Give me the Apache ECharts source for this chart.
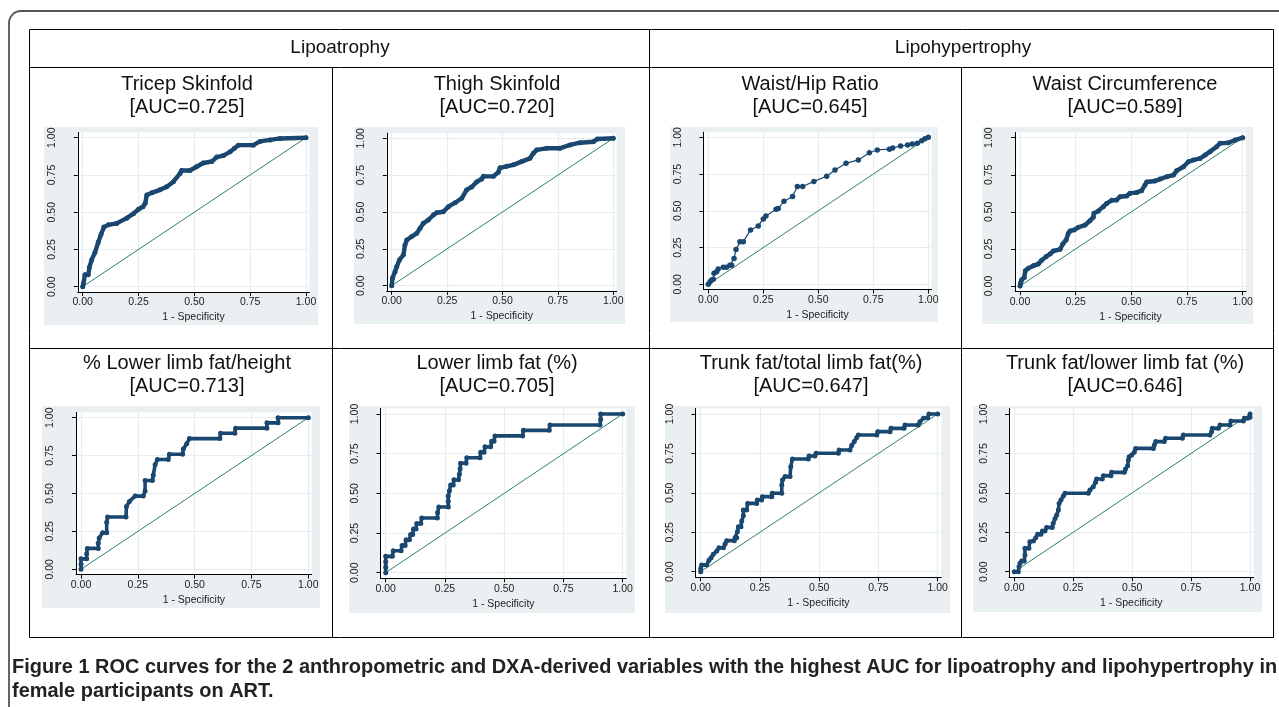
<!DOCTYPE html>
<html>
<head>
<meta charset="utf-8">
<script src="https://cdn.jsdelivr.net/npm/echarts@6/dist/echarts.min.js"></script>
<style>
html,body{margin:0;padding:0;background:#fff;}
#chart{width:1279px;height:707px;}
</style>
</head>
<body>
<div id="chart"></div>
<script>
// ---------- DATA ----------
const groupHeaders = ['Lipoatrophy', 'Lipohypertrophy'];
const panelTitles = ['Tricep Skinfold', 'Thigh Skinfold', 'Waist/Hip Ratio', 'Waist Circumference',
  '% Lower limb fat/height', 'Lower limb fat (%)', 'Trunk fat/total limb fat(%)', 'Trunk fat/lower limb fat (%)'];
const aucLabels = ['[AUC=0.725]', '[AUC=0.720]', '[AUC=0.645]', '[AUC=0.589]',
  '[AUC=0.713]', '[AUC=0.705]', '[AUC=0.647]', '[AUC=0.646]'];
const tickValues = [0, 0.25, 0.5, 0.75, 1];
const tickLabels = ['0.00', '0.25', '0.50', '0.75', '1.00'];
const xAxisTitle = '1 - Specificity';
const captionLines = [
  'Figure 1 ROC curves for the 2 anthropometric and DXA-derived variables with the highest AUC for lipoatrophy and lipohypertrophy in',
  'female participants on ART.'
];
const diagonal = [[0, 0], [1, 1]];

const tricepSkinfold = [[0,0],[0.003,0.02],[0.01,0.08],[0.025,0.08],[0.03,0.13],[0.04,0.18],[0.055,0.23],[0.07,0.30],[0.082,0.35],[0.095,0.40],[0.115,0.415],[0.152,0.425],[0.197,0.46],[0.227,0.49],[0.25,0.52],[0.27,0.537],[0.28,0.56],[0.287,0.615],[0.31,0.63],[0.346,0.65],[0.376,0.67],[0.406,0.705],[0.436,0.76],[0.443,0.78],[0.48,0.78],[0.51,0.805],[0.54,0.83],[0.578,0.84],[0.6,0.87],[0.63,0.88],[0.66,0.905],[0.68,0.93],[0.697,0.95],[0.764,0.95],[0.794,0.975],[0.84,0.985],[0.884,0.995],[1,1]];

const thighSkinfold = [[0,0],[0.003,0.05],[0.015,0.095],[0.023,0.13],[0.035,0.175],[0.053,0.21],[0.06,0.276],[0.068,0.31],[0.09,0.333],[0.113,0.355],[0.128,0.39],[0.143,0.423],[0.165,0.446],[0.188,0.48],[0.203,0.495],[0.233,0.502],[0.256,0.536],[0.286,0.563],[0.316,0.593],[0.338,0.65],[0.361,0.67],[0.383,0.704],[0.406,0.724],[0.414,0.742],[0.459,0.742],[0.481,0.77],[0.489,0.80],[0.519,0.81],[0.549,0.82],[0.586,0.842],[0.624,0.864],[0.639,0.898],[0.654,0.921],[0.699,0.932],[0.759,0.932],[0.805,0.955],[0.85,0.97],[0.91,0.977],[0.928,0.995],[1,1]];

const waistHipRatio = [[0,0],[0.008,0.018],[0.015,0.03],[0.023,0.034],[0.026,0.075],[0.038,0.086],[0.045,0.104],[0.068,0.116],[0.083,0.116],[0.098,0.13],[0.106,0.13],[0.117,0.175],[0.126,0.236],[0.144,0.29],[0.159,0.29],[0.192,0.37],[0.227,0.397],[0.25,0.445],[0.262,0.465],[0.308,0.51],[0.318,0.515],[0.344,0.565],[0.383,0.597],[0.405,0.665],[0.429,0.665],[0.48,0.7],[0.538,0.735],[0.576,0.778],[0.626,0.823],[0.682,0.846],[0.732,0.895],[0.768,0.914],[0.823,0.919],[0.838,0.928],[0.874,0.941],[0.906,0.948],[0.927,0.955],[0.95,0.96],[0.97,0.977],[0.985,0.99],[1,1]];

const waistCircumference = [[0,0],[0.003,0.022],[0.007,0.04],[0.019,0.058],[0.024,0.103],[0.037,0.119],[0.06,0.137],[0.082,0.148],[0.097,0.173],[0.117,0.198],[0.135,0.216],[0.15,0.236],[0.18,0.247],[0.192,0.283],[0.207,0.31],[0.217,0.355],[0.225,0.371],[0.243,0.378],[0.262,0.396],[0.292,0.411],[0.314,0.44],[0.329,0.463],[0.332,0.49],[0.352,0.506],[0.374,0.535],[0.389,0.557],[0.412,0.578],[0.434,0.58],[0.449,0.602],[0.479,0.607],[0.494,0.625],[0.524,0.631],[0.546,0.643],[0.561,0.681],[0.569,0.701],[0.606,0.708],[0.629,0.721],[0.659,0.737],[0.689,0.748],[0.704,0.778],[0.734,0.804],[0.756,0.838],[0.778,0.849],[0.808,0.86],[0.831,0.883],[0.853,0.906],[0.883,0.939],[0.898,0.962],[0.936,0.966],[0.966,0.984],[1,1]];

const lowerLimbFatHeight = [[0,0],[0,0.034],[0,0.069],[0.025,0.069],[0.025,0.103],[0.028,0.138],[0.076,0.138],[0.076,0.172],[0.08,0.207],[0.095,0.241],[0.113,0.241],[0.113,0.31],[0.117,0.345],[0.198,0.345],[0.2,0.414],[0.213,0.448],[0.238,0.483],[0.274,0.483],[0.282,0.517],[0.282,0.586],[0.314,0.586],[0.318,0.621],[0.326,0.69],[0.336,0.724],[0.384,0.724],[0.389,0.759],[0.447,0.759],[0.45,0.793],[0.465,0.828],[0.477,0.862],[0.611,0.862],[0.614,0.897],[0.677,0.897],[0.68,0.931],[0.818,0.931],[0.818,0.966],[0.867,0.966],[0.867,1],[1,1]];

const lowerLimbFatPct = [[0,0],[0,0.034],[0,0.069],[0,0.103],[0.028,0.103],[0.032,0.138],[0.065,0.138],[0.069,0.172],[0.082,0.172],[0.086,0.207],[0.1,0.207],[0.105,0.241],[0.114,0.241],[0.117,0.276],[0.128,0.276],[0.131,0.31],[0.148,0.31],[0.152,0.345],[0.218,0.345],[0.219,0.379],[0.224,0.414],[0.264,0.414],[0.264,0.448],[0.264,0.483],[0.269,0.517],[0.274,0.552],[0.285,0.552],[0.288,0.586],[0.307,0.586],[0.311,0.621],[0.314,0.655],[0.316,0.69],[0.339,0.69],[0.342,0.724],[0.398,0.724],[0.401,0.759],[0.415,0.759],[0.419,0.793],[0.443,0.793],[0.447,0.828],[0.457,0.828],[0.461,0.862],[0.578,0.862],[0.581,0.897],[0.69,0.897],[0.693,0.931],[0.904,0.931],[0.907,0.966],[0.907,1],[1,1]];

const trunkTotalLimbFat = [[0,0],[0,0.021],[0.004,0.042],[0.025,0.042],[0.035,0.072],[0.044,0.089],[0.053,0.11],[0.068,0.131],[0.077,0.152],[0.096,0.152],[0.103,0.175],[0.11,0.197],[0.142,0.197],[0.145,0.216],[0.152,0.216],[0.155,0.254],[0.159,0.285],[0.17,0.285],[0.173,0.321],[0.18,0.355],[0.18,0.391],[0.194,0.391],[0.198,0.433],[0.236,0.433],[0.239,0.455],[0.257,0.455],[0.26,0.476],[0.3,0.476],[0.302,0.497],[0.342,0.497],[0.342,0.55],[0.345,0.581],[0.356,0.603],[0.377,0.603],[0.38,0.666],[0.387,0.715],[0.454,0.715],[0.457,0.734],[0.482,0.734],[0.487,0.751],[0.581,0.751],[0.584,0.772],[0.63,0.772],[0.637,0.8],[0.648,0.825],[0.658,0.85],[0.665,0.867],[0.743,0.867],[0.747,0.888],[0.799,0.888],[0.803,0.909],[0.858,0.909],[0.862,0.93],[0.918,0.93],[0.925,0.951],[0.94,0.973],[0.958,0.977],[0.963,1],[1,1]];

const trunkLowerLimbFat = [[0,0],[0.017,0],[0.02,0.032],[0.024,0.053],[0.031,0.068],[0.042,0.068],[0.045,0.106],[0.045,0.148],[0.062,0.148],[0.066,0.19],[0.081,0.195],[0.091,0.216],[0.099,0.237],[0.113,0.237],[0.119,0.258],[0.13,0.258],[0.137,0.281],[0.161,0.281],[0.165,0.307],[0.173,0.338],[0.18,0.359],[0.187,0.391],[0.19,0.433],[0.198,0.455],[0.208,0.48],[0.215,0.497],[0.314,0.497],[0.321,0.518],[0.335,0.539],[0.345,0.567],[0.349,0.588],[0.373,0.588],[0.378,0.609],[0.41,0.609],[0.413,0.63],[0.467,0.63],[0.472,0.651],[0.481,0.672],[0.484,0.708],[0.487,0.729],[0.498,0.74],[0.509,0.757],[0.515,0.782],[0.59,0.782],[0.594,0.803],[0.6,0.825],[0.636,0.825],[0.642,0.846],[0.713,0.846],[0.717,0.867],[0.83,0.867],[0.837,0.888],[0.84,0.909],[0.866,0.909],[0.873,0.93],[0.915,0.93],[0.919,0.956],[0.972,0.956],[0.976,0.973],[0.99,0.973],[1,0.98],[1,1]];

const panelSeries = [tricepSkinfold, thighSkinfold, waistHipRatio, waistCircumference,
  lowerLimbFatHeight, lowerLimbFatPct, trunkTotalLimbFat, trunkLowerLimbFat];

// ---------- LAYOUT (pixels) ----------
// data pixel positions: x of 0, x of 1, y of 1, y of 0; background region; title center x
const layout = [
  {x0: 82.7,  x1: 306,    y1: 137.7, y0: 286.7, bg: [44, 127, 318, 325],   tx: 187},
  {x0: 391.7, x1: 613.3,  y1: 138.3, y0: 285.7, bg: [354, 127, 625, 324],  tx: 497},
  {x0: 708.3, x1: 928.3,  y1: 137.3, y0: 284.3, bg: [670, 127, 938, 322],  tx: 810},
  {x0: 1020,  x1: 1242.7, y1: 137.7, y0: 286,   bg: [982, 127, 1253, 324], tx: 1125},
  {x0: 81,    x1: 308.3,  y1: 417.7, y0: 569.3, bg: [42, 406, 320, 608],   tx: 187},
  {x0: 385.7, x1: 622.7,  y1: 414,   y0: 572.7, bg: [349, 406, 635, 613],  tx: 497},
  {x0: 700.7, x1: 937.7,  y1: 414,   y0: 571.7, bg: [665, 406, 950, 613],  tx: 811},
  {x0: 1014.3,x1: 1250,   y1: 414,   y0: 571.7, bg: [973, 406, 1262, 612], tx: 1125}
];
const XMIN = -0.022, XMAX = 1.015, YMIN = -0.035, YMAX = 1.035;
const NAVY = '#1a476f';
const DIAG = '#2e7f6f';
const FONT = "'Liberation Sans', Arial, Helvetica, sans-serif";

const grids = [], xAxes = [], yAxes = [], series = [], graphics = [];

layout.forEach((L, i) => {
  const w = L.x1 - L.x0, h = L.y0 - L.y1;
  const left = L.x0 + XMIN * w;
  const right = L.x0 + XMAX * w;
  const top = L.y1 - (YMAX - 1) * h;
  const bottom = L.y0 - YMIN * h;
  grids.push({left: left, top: top, width: right - left, height: bottom - top,
    show: true, backgroundColor: '#ffffff', borderWidth: 0, containLabel: false, outerBoundsMode: 'none'});
  const fmt = v => { const k = tickValues.indexOf(v); return k >= 0 ? tickLabels[k] : v.toFixed(2); };
  xAxes.push({
    type: 'value', gridIndex: i, min: XMIN, max: XMAX,
    name: xAxisTitle, nameLocation: 'middle', nameGap: 20,
    nameTextStyle: {fontFamily: FONT, fontSize: 10.5, color: '#222'},
    axisLine: {show: true, onZero: false, lineStyle: {color: '#000', width: 1}},
    axisTick: {show: true, customValues: tickValues, length: 4, lineStyle: {color: '#000'}},
    axisLabel: {customValues: tickValues, formatter: fmt, margin: 5, fontFamily: FONT, fontSize: 10.5, color: '#222'},
    splitLine: {show: true, lineStyle: {color: '#e6edf0', width: 1.2}}
  });
  yAxes.push({
    type: 'value', gridIndex: i, min: YMIN, max: YMAX,
    axisLine: {show: true, onZero: false, lineStyle: {color: '#000', width: 1}},
    axisTick: {show: true, customValues: tickValues, length: 4, lineStyle: {color: '#000'}},
    axisLabel: {customValues: tickValues, formatter: fmt, rotate: 90, margin: 20, fontFamily: FONT, fontSize: 10.5, color: '#222'},
    splitLine: {show: true, lineStyle: {color: '#e6edf0', width: 1.2}}
  });
  series.push({
    type: 'line', xAxisIndex: i, yAxisIndex: i, data: diagonal, showSymbol: false, silent: true,
    lineStyle: {color: DIAG, width: 1}, z: 2, animation: false
  });
  const sparse = (i === 2);
  series.push({
    type: 'line', xAxisIndex: i, yAxisIndex: i, data: panelSeries[i],
    symbol: 'circle', symbolSize: sparse ? 5.5 : 5, showSymbol: true, showAllSymbol: true,
    itemStyle: {color: NAVY},
    lineStyle: {color: NAVY, width: sparse ? 1.2 : (i >= 4 ? 3.6 : 4.4), cap: 'round', join: 'round'},
    z: 3, animation: false
  });
  graphics.push({type: 'rect', z: -10, shape: {x: L.bg[0], y: L.bg[1], width: L.bg[2] - L.bg[0], height: L.bg[3] - L.bg[1]},
    style: {fill: '#eaf0f2'}});
  const rowTop = i < 4 ? 84 : 363;
  graphics.push({type: 'text', z: 5, style: {text: panelTitles[i], x: L.tx, y: rowTop, align: 'center', verticalAlign: 'middle',
    font: "20px " + FONT, fill: '#111'}});
  graphics.push({type: 'text', z: 5, style: {text: aucLabels[i], x: L.tx, y: rowTop + 23, align: 'center', verticalAlign: 'middle',
    font: "20px " + FONT, fill: '#111'}});
});

// table frame
const T = {l: 29.5, t: 29.5, r: 1273.5, b: 637.5, head: 67.5, mid: 348.5, cols: [332.5, 649.5, 961.5]};
const lineStyle = {stroke: '#000', lineWidth: 1};
graphics.push({type: 'rect', z: 4, shape: {x: T.l, y: T.t, width: T.r - T.l, height: T.b - T.t}, style: {fill: 'none', stroke: '#000', lineWidth: 1}});
graphics.push({type: 'line', z: 4, shape: {x1: T.l, y1: T.head, x2: T.r, y2: T.head}, style: lineStyle});
graphics.push({type: 'line', z: 4, shape: {x1: T.l, y1: T.mid, x2: T.r, y2: T.mid}, style: lineStyle});
graphics.push({type: 'line', z: 4, shape: {x1: T.cols[1], y1: T.t, x2: T.cols[1], y2: T.b}, style: lineStyle});
graphics.push({type: 'line', z: 4, shape: {x1: T.cols[0], y1: T.head, x2: T.cols[0], y2: T.b}, style: lineStyle});
graphics.push({type: 'line', z: 4, shape: {x1: T.cols[2], y1: T.head, x2: T.cols[2], y2: T.b}, style: lineStyle});
graphics.push({type: 'text', z: 5, style: {text: groupHeaders[0], x: 340, y: 48, align: 'center', verticalAlign: 'middle', font: "19px " + FONT, fill: '#111'}});
graphics.push({type: 'text', z: 5, style: {text: groupHeaders[1], x: 963, y: 48, align: 'center', verticalAlign: 'middle', font: "19px " + FONT, fill: '#111'}});

// outer rounded frame
graphics.push({type: 'rect', z: 4, shape: {x: 9, y: 11, width: 1300, height: 720, r: 12}, style: {fill: 'none', stroke: '#555', lineWidth: 1.8}});

// caption, font size fitted to the measured line width
const capFamily = "'Liberation Sans Narrow', 'Liberation Sans', Arial, sans-serif";
const cv = document.createElement('canvas').getContext('2d');
let capSize = 18;
cv.font = 'bold ' + capSize + 'px ' + capFamily;
const wMeasured = cv.measureText(captionLines[0]).width;
capSize = Math.max(13, Math.min(22, capSize * 1266 / wMeasured));
graphics.push({type: 'text', z: 5, style: {text: captionLines[0], x: 12, y: 668, align: 'left', verticalAlign: 'middle', font: 'bold ' + capSize.toFixed(2) + 'px ' + capFamily, fill: '#222'}});
graphics.push({type: 'text', z: 5, style: {text: captionLines[1], x: 12, y: 692, align: 'left', verticalAlign: 'middle', font: 'bold ' + capSize.toFixed(2) + 'px ' + capFamily, fill: '#222'}});

const chart = echarts.init(document.getElementById('chart'), null, {renderer: 'canvas'});
chart.setOption({
  animation: false,
  backgroundColor: '#ffffff',
  grid: grids, xAxis: xAxes, yAxis: yAxes, series: series,
  graphic: {elements: graphics}
});
</script>
</body>
</html>
